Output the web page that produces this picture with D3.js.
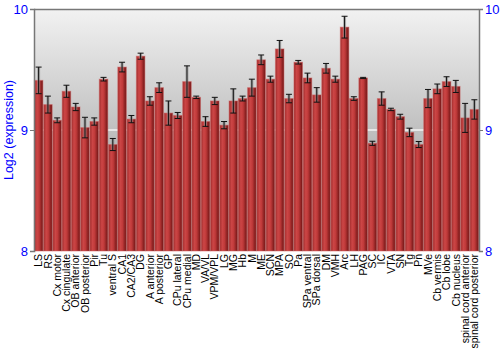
<!DOCTYPE html>
<html>
<head>
<meta charset="utf-8">
<script src="https://d3js.org/d3.v7.min.js"></script>
<style>
  body { margin: 0; background: #fff; }
  svg { font-family: "Liberation Sans", Arial, sans-serif; }
</style>
</head>
<body>
<div id="chart"></div>
<script>
var regions = ["LS","RS","Cx motor","Cx cingulate","OB anterior","OB posterior","Pir","Tu","ventral S","CA1","CA2/CA3","DG","A anterior","A posterior","GP","CPu lateral","CPu medial","MD","VA/VL","VPM/VPL","LG","MG","Hb","M","ME","SCN","MPA","SO","Pa","SPa ventral","SPa dorsal","DM","VMH","Arc","LH","PAG","SC","IC","VTA","SN","Tg","Pn","MVe","Cb vermis","Cb lobe","Cb nucleus","spinal cord anterior","spinal cord posterior"];
var expression = [9.41,9.21,9.08,9.32,9.19,9.02,9.07,9.42,8.88,9.52,9.09,9.61,9.24,9.35,9.14,9.12,9.40,9.27,9.07,9.24,9.04,9.24,9.26,9.35,9.58,9.42,9.67,9.26,9.56,9.43,9.29,9.51,9.42,9.85,9.26,9.43,8.89,9.26,9.17,9.11,8.98,8.88,9.26,9.34,9.40,9.36,9.10,9.17];
var stdErr = [0.11,0.07,0.02,0.05,0.03,0.085,0.03,0.015,0.05,0.04,0.03,0.025,0.035,0.04,0.1,0.025,0.13,0.01,0.04,0.03,0.03,0.1,0.02,0.07,0.04,0.025,0.07,0.035,0.015,0.04,0.06,0.04,0.025,0.09,0.015,0.005,0.017,0.055,0.01,0.02,0.035,0.025,0.075,0.04,0.04,0.05,0.12,0.08];
var yTicks = [8, 9, 10];

var width = 500, height = 350;
var margin = {top: 9, right: 21, bottom: 99, left: 34};
var w = width - margin.left - margin.right,
    h = height - margin.top - margin.bottom;

var svg = d3.select("#chart").append("svg")
    .attr("width", width)
    .attr("height", height);

var defs = svg.append("defs");
var bg = defs.append("linearGradient").attr("id", "bg")
    .attr("x1", 0).attr("y1", 0).attr("x2", 0).attr("y2", 1);
bg.append("stop").attr("offset", "0%").attr("stop-color", "#f2f2f2");
bg.append("stop").attr("offset", "100%").attr("stop-color", "#8e8e8e");

var barGrad = defs.append("linearGradient").attr("id", "bar")
    .attr("x1", 0).attr("y1", 0).attr("x2", 1).attr("y2", 0);
barGrad.append("stop").attr("offset", "0%").attr("stop-color", "#a02c2c");
barGrad.append("stop").attr("offset", "30%").attr("stop-color", "#cc4646");
barGrad.append("stop").attr("offset", "55%").attr("stop-color", "#c03a3a");
barGrad.append("stop").attr("offset", "100%").attr("stop-color", "#6e1414");

var g = svg.append("g").attr("transform", "translate(" + margin.left + "," + margin.top + ")");

var x = d3.scaleBand().domain(regions).range([0, w]).paddingInner(0.08).paddingOuter(0.04);
var y = d3.scaleLinear().domain([8, 10]).range([h, 0]);

g.append("rect").attr("width", w).attr("height", h).attr("fill", "url(#bg)");

// grid line at 9
g.selectAll(".grid").data([9]).enter().append("line")
    .attr("x1", 0).attr("x2", w)
    .attr("y1", function(d) { return y(d); }).attr("y2", function(d) { return y(d); })
    .attr("stroke", "#f4f4f4").attr("stroke-width", 1.5);

// top border
g.append("line").attr("x1", 0).attr("x2", w).attr("y1", 0.5).attr("y2", 0.5)
    .attr("stroke", "#777").attr("stroke-width", 1.5);

var data = regions.map(function(r, i) { return {name: r, v: expression[i], e: stdErr[i]}; });

g.selectAll(".bar").data(data).enter().append("rect")
    .attr("class", "bar")
    .attr("x", function(d) { return x(d.name); })
    .attr("y", function(d) { return y(d.v); })
    .attr("width", x.bandwidth())
    .attr("height", function(d) { return h - y(d.v); })
    .attr("fill", "url(#bar)")
    .attr("stroke", "#d06060").attr("stroke-opacity", 0.5).attr("stroke-width", 1);

var err = g.selectAll(".err").data(data).enter().append("g")
    .attr("transform", function(d) { return "translate(" + (x(d.name) + x.bandwidth() / 2) + ",0)"; });
err.append("line")
    .attr("y1", function(d) { return y(d.v + d.e); })
    .attr("y2", function(d) { return y(d.v - d.e); })
    .attr("stroke", "#888").attr("stroke-width", 3).attr("stroke-opacity", 0.6);
err.append("line")
    .attr("y1", function(d) { return y(d.v + d.e); })
    .attr("y2", function(d) { return y(d.v - d.e); })
    .attr("stroke", "#111").attr("stroke-width", 1);
err.selectAll(".cap").data(function(d) { return [d.v + d.e, d.v - d.e]; }).enter().append("line")
    .attr("x1", -3).attr("x2", 3)
    .attr("y1", function(d) { return y(d); }).attr("y2", function(d) { return y(d); })
    .attr("stroke", "#111").attr("stroke-width", 1);

var fmt = d3.format("d");
var yAxisL = d3.axisLeft(y).tickValues(yTicks).tickFormat(fmt).tickSize(4).tickPadding(2);
var yAxisR = d3.axisRight(y).tickValues(yTicks).tickFormat(fmt).tickSize(4).tickPadding(2);

var gl = g.append("g").call(yAxisL);
var gr = g.append("g").attr("transform", "translate(" + w + ",0)").call(yAxisR);
[gl, gr].forEach(function(ax) {
  ax.select(".domain").attr("stroke", "#777").attr("stroke-width", 1.5);
  ax.selectAll(".tick line").attr("stroke", "#777");
  ax.selectAll(".tick text").attr("fill", "#0000ff").style("font-size", "13px");
});

var gx = g.append("g").attr("transform", "translate(0," + h + ")")
    .call(d3.axisBottom(x).tickSize(0).tickPadding(3));
gx.select(".domain").remove();
gx.selectAll(".tick text")
    .style("font-size", "10.5px").attr("fill", "#000")
    .attr("text-anchor", "end")
    .attr("transform", "rotate(-90)")
    .attr("x", -3).attr("y", 0).attr("dy", "0.35em");

svg.append("text")
    .attr("transform", "translate(13," + (margin.top + h / 2) + ") rotate(-90)")
    .attr("text-anchor", "middle")
    .attr("fill", "#0000ff")
    .style("font-size", "12.5px")
    .text("Log2 (expression)");
</script>
</body>
</html>
